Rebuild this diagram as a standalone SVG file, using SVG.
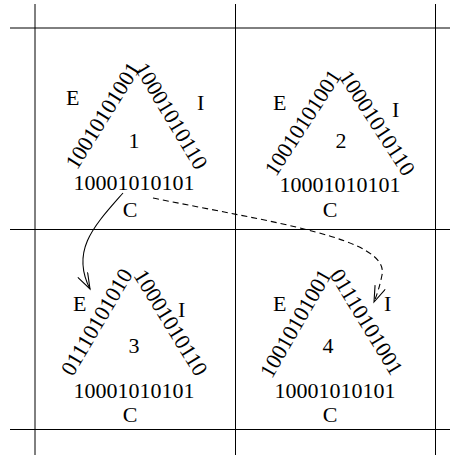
<svg xmlns="http://www.w3.org/2000/svg" width="450" height="455" viewBox="0 0 450 455">
<style>
text { font-family: "Liberation Serif", "Times New Roman", serif; font-size: 22px; fill: #000; }
.m { text-anchor: middle; }
.grid line { stroke: #000; stroke-width: 1; }
.conn path { fill: none; stroke: #000; stroke-width: 1.1; }
.dash { stroke-dasharray: 6 4; }
</style>
<defs>
<marker id="arr" markerUnits="userSpaceOnUse" markerWidth="18" markerHeight="12" refX="16" refY="6" orient="auto">
<path d="M0,0.5 L16,6 L0,11.5" fill="none" stroke="#000" stroke-width="1.1"/>
</marker>
</defs>
<rect width="450" height="455" fill="#fff"/>
<g class="grid">
<line x1="35" y1="4" x2="35" y2="455"/>
<line x1="235.5" y1="4" x2="235.5" y2="455"/>
<line x1="435.5" y1="4" x2="435.5" y2="455"/>
<line x1="10" y1="28" x2="450" y2="28"/>
<line x1="10" y1="229.5" x2="450" y2="229.5"/>
<line x1="10" y1="429.5" x2="450" y2="429.5"/>
</g>
<g id="panel1">
<text x="66" y="105">E</text>
<text x="197" y="110">I</text>
<text class="m" x="134" y="148">1</text>
<text class="m" x="134" y="190">10001010101</text>
<text class="m" x="130" y="217">C</text>
<text class="m" transform="translate(109,119.5) rotate(-58)">10010101001</text>
<text class="m" transform="translate(165,119.7) rotate(59)">10001010110</text>
</g>
<g id="panel2">
<text x="273" y="110">E</text>
<text x="392" y="117">I</text>
<text class="m" x="341" y="148">2</text>
<text class="m" x="340" y="192">10001010101</text>
<text class="m" x="330" y="217">C</text>
<text class="m" transform="translate(309,126.5) rotate(-57)">10010101001</text>
<text class="m" transform="translate(371,127) rotate(57)">10001010110</text>
</g>
<g id="panel3">
<text x="73" y="311">E</text>
<text x="178" y="317">I</text>
<text class="m" x="134" y="353">3</text>
<text class="m" x="134" y="398">10001010101</text>
<text class="m" x="130" y="422">C</text>
<text class="m" transform="translate(103,325.7) rotate(-59.5)">01110101010</text>
<text class="m" transform="translate(164.5,326.5) rotate(58.5)">10001010110</text>
</g>
<g id="panel4">
<text x="273" y="311">E</text>
<text x="384" y="311">I</text>
<text class="m" x="328" y="353">4</text>
<text class="m" x="335" y="398">10001010101</text>
<text class="m" x="330" y="422">C</text>
<text class="m" transform="translate(302,327) rotate(-60)">10010101001</text>
<text class="m" transform="translate(360.3,325.7) rotate(58.7)">01110101001</text>
</g>
<g class="conn">
<path d="M123,193 C95,225 70,250 90,289" marker-end="url(#arr)"/>
<path class="dash" d="M153,198 C270,222 390,238 382,275 Q379,290 374,302" marker-end="url(#arr)"/>
</g>
</svg>
